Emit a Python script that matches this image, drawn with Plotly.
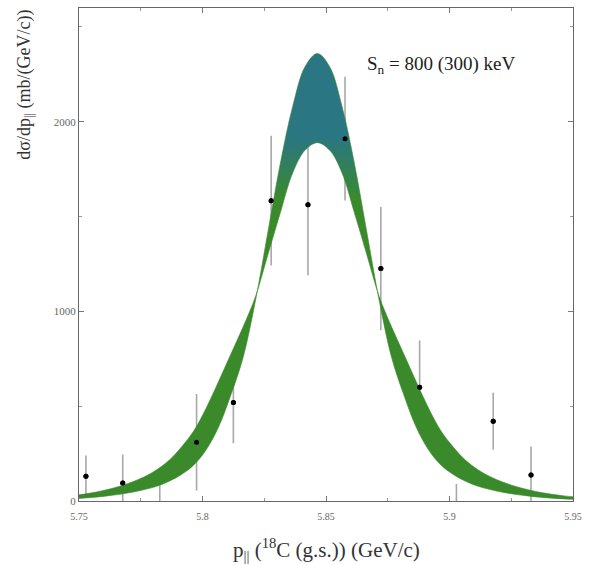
import plotly.graph_objects as go

# ---- data ----
p_x = [5.7528, 5.7677, 5.7827, 5.7976, 5.8125, 5.8278, 5.8427, 5.8577,
       5.8722, 5.8879, 5.9028, 5.9177, 5.9330]
p_y = [130, 95, -30, 310, 520, 1584, 1563, 1911, 1226, 600, -30, 421, 137]
p_err = [110, 150, 200, 255, 215, 342, 373, 326, 325, 247, 120, 150, 150]

band_x = [5.7465, 5.7515, 5.7565, 5.7615, 5.7665, 5.7715, 5.7765, 5.7815,
          5.7865, 5.7915, 5.7965, 5.8015, 5.8065, 5.8115, 5.8165, 5.8215,
          5.8265, 5.8315, 5.8365, 5.8415, 5.8465, 5.8515, 5.8565, 5.8615,
          5.8665, 5.8715, 5.8765, 5.8815, 5.8865, 5.8915, 5.8965, 5.9015,
          5.9065, 5.9115, 5.9165, 5.9215, 5.9265, 5.9315, 5.9365, 5.9415,
          5.9465, 5.9515]
# broad (lower-peak) curve
band_broad = [27, 35, 46, 60, 78, 100, 128, 165, 215, 285,
              370, 490, 630, 775, 920, 1080, 1300, 1520, 1730, 1850,
              1890,
              1850, 1730, 1520, 1300, 1080, 920, 775, 630, 490, 370,
              285, 215, 165, 128, 100, 78, 60, 46, 35, 27, 20]
# narrow (higher-peak) curve
band_narrow = [11, 15, 20, 27, 35, 46, 60, 78, 104, 140,
               190, 270, 390, 560, 760, 1060, 1420, 1780, 2080, 2290,
               2360,
               2290, 2080, 1780, 1420, 1060, 760, 560, 390, 270, 190,
               140, 104, 78, 60, 46, 35, 27, 20, 15, 11, 8]

x_tickvals = [5.75, 5.80, 5.85, 5.90, 5.95]
x_ticktext = ["5.75", "5.8", "5.85", "5.9", "5.95"]
y_tickvals = [0, 1000, 2000]
y_ticktext = ["0", "1000", "2000"]

GREEN = "#3a8a2c"
TEAL = "#2a7682"

fig = go.Figure()

# error bars (under the band)
fig.add_trace(go.Scatter(
    x=p_x, y=p_y, mode="markers",
    marker=dict(size=5, color="black"),
    error_y=dict(type="data", array=p_err, visible=True,
                 color="#a8a8a8", thickness=1.6, width=0),
    showlegend=False, hoverinfo="skip"))

# band
fig.add_trace(go.Scatter(
    x=band_x, y=band_broad, mode="lines", line=dict(color=GREEN, width=0.6, shape="spline"),
    showlegend=False, hoverinfo="skip"))
fig.add_trace(go.Scatter(
    x=band_x, y=band_narrow, mode="lines", line=dict(color=GREEN, width=0.6, shape="spline"),
    fill="tonexty",
    fillgradient=dict(type="vertical", start=0, stop=2400,
                      colorscale=[[0, GREEN], [0.66, GREEN], [0.8, TEAL], [1, TEAL]]),
    showlegend=False, hoverinfo="skip"))

# markers on top
fig.add_trace(go.Scatter(
    x=p_x, y=p_y, mode="markers",
    marker=dict(size=5, color="black"),
    showlegend=False, hoverinfo="skip"))

fig.add_annotation(
    x=0.578, y=0.885, xref="paper", yref="paper", xanchor="left", yanchor="middle",
    text="S<sub>n</sub> = 800 (300) keV", showarrow=False,
    font=dict(family="Liberation Serif", size=19, color="#222"))

fig.add_annotation(
    x=-0.11, y=1.0, xref="paper", yref="paper", xanchor="center", yanchor="top",
    text="dσ/dp<sub>||</sub> (mb/(GeV/c))", textangle=-90, showarrow=False,
    font=dict(family="Liberation Serif", size=18, color="#333"))

fig.add_annotation(
    x=0.5, y=-0.065, xref="paper", yref="paper", xanchor="center", yanchor="top",
    text="p<sub>||</sub> (<sup>18</sup>C (g.s.)) (GeV/c)", showarrow=False,
    font=dict(family="Liberation Serif", size=21, color="#333"))

axis_common = dict(showgrid=False, zeroline=False, showline=True, linecolor="#666",
                   linewidth=1, mirror="ticks", ticks="inside", ticklen=5,
                   tickcolor="#777")

fig.update_xaxes(range=[5.75, 5.95], tickvals=x_tickvals, ticktext=x_ticktext,
                 tickfont=dict(family="Liberation Serif", size=10, color="#666"),
                 ticklabelstandoff=6,
                 minor=dict(dtick=0.025, tick0=5.75, ticks="inside", ticklen=3, tickcolor="#999"),
                 **axis_common)
fig.update_yaxes(range=[0, 2600], tickvals=y_tickvals, ticktext=y_ticktext,
                 tickfont=dict(family="Liberation Serif", size=11, color="#666"),
                 minor=dict(dtick=500, tick0=0, ticks="inside", ticklen=3, tickcolor="#999"),
                 **axis_common)

fig.update_layout(width=589, height=565, margin=dict(l=79, r=14, t=7, b=64),
                  plot_bgcolor="white", paper_bgcolor="white")

fig.write_html("out.html")
